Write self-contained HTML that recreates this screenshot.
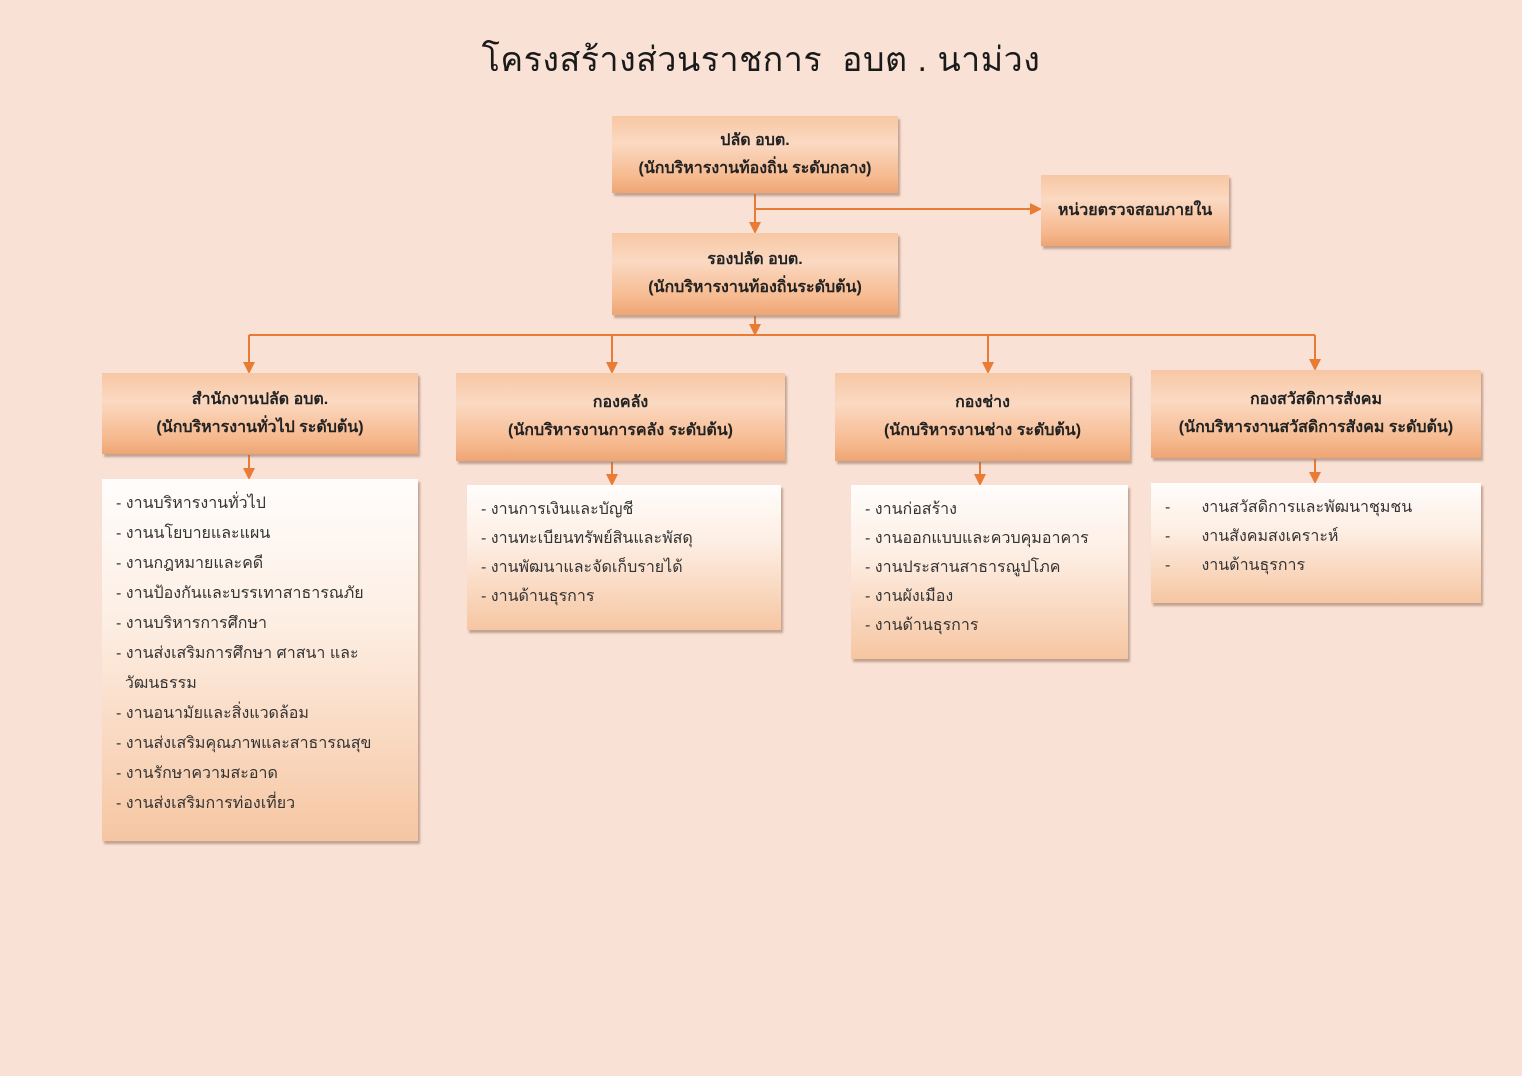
<!DOCTYPE html>
<html><head><meta charset="utf-8"><style>
body{margin:0;width:1522px;height:1076px;background:#f9e2d5;position:relative;overflow:hidden;font-family:"Liberation Sans","DejaVu Sans",sans-serif;color:#222}
.t{position:absolute;left:0;width:1522px;top:32px;text-align:center;font-size:34px;color:#1a1a1a;letter-spacing:0.5px}
.h{position:absolute;box-sizing:border-box;background:linear-gradient(180deg,#f7c7a3 0%,#fbd9c2 35%,#f6b98e 80%,#eea574 100%);box-shadow:2px 3px 2px rgba(150,110,90,.55);display:flex;flex-direction:column;justify-content:center;align-items:center;font-weight:bold;font-size:16px;line-height:28px;color:#222;text-align:center}
.l{position:absolute;box-sizing:border-box;background:linear-gradient(180deg,#fffdfc 0%,#fdeee3 40%,#f6c6a2 100%);box-shadow:2px 3px 2px rgba(150,110,90,.55);font-size:16px;line-height:30px;color:#333;padding-top:10px}
svg{position:absolute;left:0;top:0}
</style></head><body>
<div class="t">โครงสร้างส่วนราชการ&nbsp; อบต . นาม่วง</div>
<svg width="1522" height="1076">
<defs><marker id="a" markerWidth="6" markerHeight="6" refX="3" refY="3" orient="auto"><path d="M0,0 L6,3 L0,6 z" fill="#e87c35"/></marker></defs>
<g stroke="#e87c35" stroke-width="2" fill="none">
<line x1="755" y1="194" x2="755" y2="228" marker-end="url(#a)"/>
<line x1="755" y1="209" x2="1036" y2="209" marker-end="url(#a)"/>
<line x1="755" y1="316" x2="755" y2="330" marker-end="url(#a)"/>
<line x1="249" y1="335" x2="1315" y2="335"/>
<line x1="249" y1="335" x2="249" y2="368" marker-end="url(#a)"/>
<line x1="612" y1="335" x2="612" y2="368" marker-end="url(#a)"/>
<line x1="988" y1="335" x2="988" y2="368" marker-end="url(#a)"/>
<line x1="1315" y1="335" x2="1315" y2="365" marker-end="url(#a)"/>
<line x1="249" y1="455" x2="249" y2="474" marker-end="url(#a)"/>
<line x1="612" y1="462" x2="612" y2="480" marker-end="url(#a)"/>
<line x1="980" y1="462" x2="980" y2="480" marker-end="url(#a)"/>
<line x1="1315" y1="459" x2="1315" y2="478" marker-end="url(#a)"/>
</g></svg>
<div class="h" style="left:612px;top:116px;width:286px;height:77px"><div>ปลัด อบต.</div><div>(นักบริหารงานท้องถิ่น ระดับกลาง)</div></div>
<div class="h" style="left:1041px;top:175px;width:188px;height:71px"><div>หน่วยตรวจสอบภายใน</div></div>
<div class="h" style="left:612px;top:233px;width:286px;height:82px"><div>รองปลัด อบต.</div><div>(นักบริหารงานท้องถิ่นระดับต้น)</div></div>
<div class="h" style="left:102px;top:373px;width:316px;height:81px"><div>สำนักงานปลัด อบต.</div><div>(นักบริหารงานทั่วไป ระดับต้น)</div></div>
<div class="h" style="left:456px;top:373px;width:329px;height:88px"><div>กองคลัง</div><div>(นักบริหารงานการคลัง ระดับต้น)</div></div>
<div class="h" style="left:835px;top:373px;width:295px;height:88px"><div>กองช่าง</div><div>(นักบริหารงานช่าง ระดับต้น)</div></div>
<div class="h" style="left:1151px;top:370px;width:330px;height:88px"><div>กองสวัสดิการสังคม</div><div>(นักบริหารงานสวัสดิการสังคม ระดับต้น)</div></div>
<div class="l" style="left:102px;top:479px;width:316px;height:362px;padding-left:14px">
- งานบริหารงานทั่วไป<br>- งานนโยบายและแผน<br>- งานกฎหมายและคดี<br>- งานป้องกันและบรรเทาสาธารณภัย<br>- งานบริหารการศึกษา<br>- งานส่งเสริมการศึกษา ศาสนา และ<br>&nbsp;&nbsp;วัฒนธรรม<br>- งานอนามัยและสิ่งแวดล้อม<br>- งานส่งเสริมคุณภาพและสาธารณสุข<br>- งานรักษาความสะอาด<br>- งานส่งเสริมการท่องเที่ยว</div>
<div class="l" style="left:467px;top:485px;width:314px;height:145px;padding-left:14px;line-height:29px">
- งานการเงินและบัญชี<br>- งานทะเบียนทรัพย์สินและพัสดุ<br>- งานพัฒนาและจัดเก็บรายได้<br>- งานด้านธุรการ</div>
<div class="l" style="left:851px;top:485px;width:277px;height:174px;padding-left:14px;line-height:29px">
- งานก่อสร้าง<br>- งานออกแบบและควบคุมอาคาร<br>- งานประสานสาธารณูปโภค<br>- งานผังเมือง<br>- งานด้านธุรการ</div>
<div class="l" style="left:1151px;top:483px;width:330px;height:120px;padding-left:14px;line-height:29px">
-&nbsp;&nbsp;&nbsp;&nbsp;&nbsp;&nbsp;&nbsp;งานสวัสดิการและพัฒนาชุมชน<br>-&nbsp;&nbsp;&nbsp;&nbsp;&nbsp;&nbsp;&nbsp;งานสังคมสงเคราะห์<br>-&nbsp;&nbsp;&nbsp;&nbsp;&nbsp;&nbsp;&nbsp;งานด้านธุรการ</div>
</body></html>
